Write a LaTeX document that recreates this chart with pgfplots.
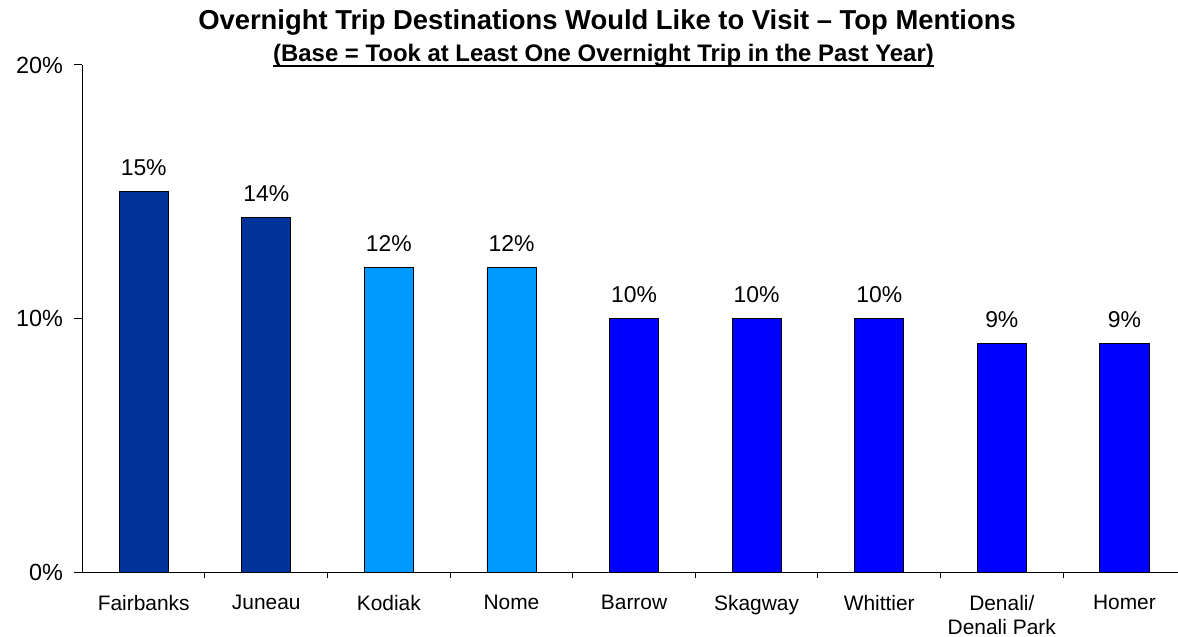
\documentclass[border=0pt]{standalone}
\usepackage{pgfplots}
\pgfplotsset{compat=1.18}
\usepackage{fontspec}
\setmainfont{Liberation Sans}
\definecolor{navy}{HTML}{003399}
\definecolor{lightb}{HTML}{0099FF}
\definecolor{pureb}{HTML}{0000FF}
\newcommand\ulbar[1]{\setbox0=\hbox{#1}\rlap{\rule[-5.5bp]{\wd0}{2.5bp}}\box0}
\begin{document}
\begin{tikzpicture}
\useasboundingbox (0,0) rectangle (1178bp,637bp);
\begin{axis}[
  at={(82.4bp,65bp)}, anchor=south west,
  scale only axis, width=1095.6bp, height=507bp,
  xmin=-0.5, xmax=8.437, ymin=0, ymax=20,
  axis x line*=bottom, axis y line*=left,
  axis line style={line width=1bp},
  ybar, bar width=0.4, bar shift=0pt,
  xtick={0,...,8},
  xticklabels={Fairbanks,Juneau,Kodiak,Nome,Barrow,Skagway,Whittier,{Denali/\\Denali Park},Homer},
  minor xtick={0.5,1.5,...,7.5},
  major x tick style={draw=none},
  minor x tick style={draw=black, line width=1bp},
  minor tick length=6bp,
  ytick={0,10,20}, yticklabels={0\%,10\%,20\%},
  major y tick style={draw=black, line width=1bp},
  major tick length=8bp,
  tick align=outside,
  xticklabel style={align=center, font=\fontsize{21}{24}\selectfont, anchor=north, yshift=-12bp},
  yticklabel style={font=\fontsize{23.5}{26}\selectfont, xshift=-8bp},
  /pgf/number format/assume math mode=true,
  nodes near coords={\pgfmathprintnumber{\pgfplotspointmeta}\%},
  every node near coord/.append style={font=\fontsize{23}{26}\selectfont, anchor=base, yshift=16bp, black},
  clip=false,
]
\addplot[fill=navy, draw=black, line width=0.8bp] coordinates {(0,15) (1,14)};
\addplot[fill=lightb, draw=black, line width=0.8bp] coordinates {(2,12) (3,12)};
\addplot[fill=pureb, draw=black, line width=0.8bp] coordinates {(4,10) (5,10) (6,10) (7,9) (8,9)};
\end{axis}
\node[anchor=base, inner sep=0] at (607bp,607bp) {\fontsize{27.5}{30}\selectfont\bfseries Overnight Trip Destinations Would Like to Visit -- Top Mentions};
\node[anchor=base, inner sep=0] at (603.5bp,575.3bp) {\fontsize{24}{26}\selectfont\bfseries\ulbar{(Base = Took at Least One Overnight Trip in the Past Year)}};
\end{tikzpicture}
\end{document}
